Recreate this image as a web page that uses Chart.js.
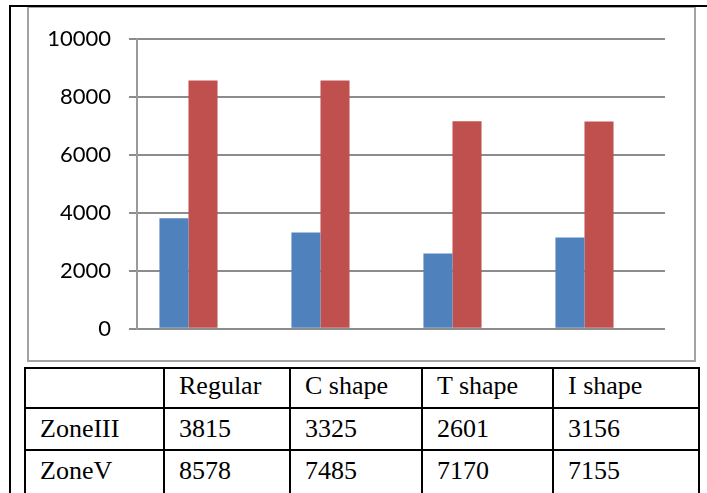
<!DOCTYPE html>
<html>
<head>
<meta charset="utf-8">
<script src="https://cdn.jsdelivr.net/npm/chart.js@4/dist/chart.umd.min.js"></script>
<style>
  html, body { margin: 0; padding: 0; background: #fff; }
  body { width: 707px; height: 493px; position: relative; overflow: hidden; }
  #outerTop { position: absolute; left: 9px; top: 5px; width: 698px; height: 2px; background: #000; }
  #outerLeft { position: absolute; left: 9px; top: 5px; width: 2px; height: 488px; background: #000; }
  #frame { position: absolute; left: 27px; top: 6px; width: 665px; height: 352px; border: 2px solid #a3a3a3; }
  #frame canvas { display: block; }
  #tbl { position: absolute; left: 24px; top: 367px; border-collapse: collapse; table-layout: fixed;
         font-family: "Liberation Serif", "Times New Roman", serif; font-size: 26px; color: #000; }
  #tbl td { border: 2px solid #000; padding: 0 0 0 14px; vertical-align: middle; white-space: nowrap; line-height: 30px; }
  #tbl tr.head td { height: 33px; padding-bottom: 5px; }
  #tbl tr.row td { height: 40px; }
  #tbl tr.last td { height: 40px; padding-bottom: 6px; }
</style>
</head>
<body>
<div id="frame"><canvas id="zoneChart" width="665" height="352"></canvas></div>
<div id="outerTop"></div>
<div id="outerLeft"></div>
<table id="tbl">
  <colgroup><col style="width:139px"><col style="width:126px"><col style="width:132px"><col style="width:131px"><col style="width:146px"></colgroup>
  <tbody id="tblBody"></tbody>
</table>
<script>
// categories and row names
const categories = ['Regular', 'C shape', 'T shape', 'I shape'];
const rowNames = ['ZoneIII', 'ZoneV'];

// values printed in the table
const tableZoneIII = [3815, 3325, 2601, 3156];
const tableZoneV = [8578, 7485, 7170, 7155];

// bar heights as drawn in the chart
const barsZoneIII = [3815, 3325, 2601, 3156];
const barsZoneV = [8578, 8578, 7170, 7155];
const barsEmpty = [null, null, null, null];

const yTicks = [0, 2000, 4000, 6000, 8000, 10000];

// table below the chart
var body = document.getElementById('tblBody');
var head = '<tr class="head"><td></td>';
categories.forEach(function(c){ head += '<td>' + c + '</td>'; });
body.innerHTML = head + '</tr>';
[tableZoneIII, tableZoneV].forEach(function(vals, i){
    var tr = '<tr class="row' + (i == 1 ? ' last' : '') + '"><td>' + rowNames[i] + '</td>';
    vals.forEach(function(v){ tr += '<td>' + v + '</td>'; });
    body.innerHTML += tr + '</tr>';
});

const dt = {
    labels: categories,
    datasets: [
    {
        label: rowNames[0],
        data: barsZoneIII,
        backgroundColor: '#4F81BD',
        borderWidth: 0
    },
    {
        label: rowNames[1],
        data: barsZoneV,
        backgroundColor: '#C0504D',
        borderWidth: 0
    },
    {
        label: '',
        data: barsEmpty,
        backgroundColor: 'rgba(0,0,0,0)',
        borderWidth: 0
    }
    ]
};

const config_zone = {
    type: 'bar',
    data: dt,
    options: {
        responsive: false,
        animation: false,
        layout: { padding: { top: 28, right: 29, bottom: 28, left: 0 } },
        plugins: { legend: { display: false }, tooltip: { enabled: false } },
        datasets: { bar: { categoryPercentage: 0.66, barPercentage: 1 } },
        scales: {
            x: { display: false },
            y: {
                min: 0,
                max: 10000,
                afterBuildTicks: function(axis){ axis.ticks = yTicks.map(function(v){ return { value: v }; }); },
                afterFit: function(axis){ axis.width = 108; },
                grid: { color: '#8c8c8c', lineWidth: 2, tickLength: 8, drawTicks: true },
                border: { display: true, color: '#9a9a9a', width: 2 },
                ticks: {
                    padding: 18,
                    color: '#000',
                    font: { family: 'Lato, "Open Sans", sans-serif', size: 22 },
                    callback: function(v){ return String(v); }
                }
            }
        }
    }
};
const zoneChart = new Chart(document.getElementById('zoneChart'), config_zone);
</script>
</body>
</html>
